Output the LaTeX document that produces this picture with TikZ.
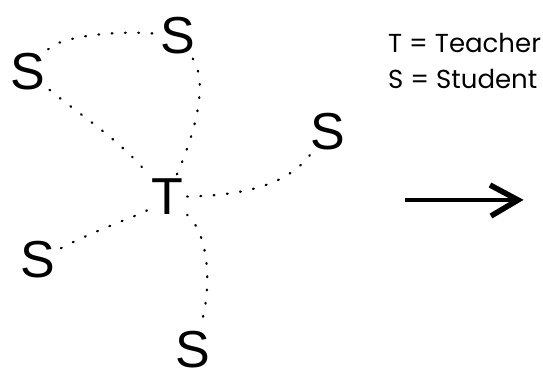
\documentclass[tikz,border=0pt]{standalone}
\usepackage{fontspec}
\setmainfont{Poppins}
\newfontfamily\letterfont{Liberation Sans}
\usetikzlibrary{arrows.meta}
\begin{document}
\begin{tikzpicture}[x=1pt,y=-1pt,
  person/.style={font=\letterfont\fontsize{52}{52}\selectfont, inner sep=4pt},
  link/.style={line width=2.3pt, line cap=round, dash pattern=on 0.8pt off 12.5pt},
  legend/.style={font=\fontsize{26}{36}\selectfont, anchor=base west, inner sep=0pt}]
  \useasboundingbox[fill=white] (0,0) rectangle (543,376);
  % class members
  \node[person] (t)  at (167,197) {T};
  \node[person] (s1) at (28,72)   {S};
  \node[person] (s2) at (178,36)  {S};
  \node[person] (s3) at (328,132) {S};
  \node[person] (s4) at (38,260)  {S};
  \node[person] (s5) at (193,350) {S};
  % dotted ties
  \draw[link] (s1) .. controls (60,36) and (120,30) .. (s2);
  \draw[link] (s1) .. controls (80,115) and (120,140) .. (t);
  \draw[link] (s2) .. controls (210,85) and (192,140) .. (t);
  \draw[link] (t) .. controls (260,195) and (292,178) .. (s3);
  \draw[link] (t) .. controls (140,215) and (100,228) .. (s4);
  \draw[link] (t) .. controls (210,235) and (212,290) .. (s5);
  % legend
  \node[legend] (l1) at (388,52) {T = Teacher};
  \node[legend] (l2) at (388,88) {S = Student};
  % arrow: shaft and a thick open head
  \coordinate (a0) at (405,200);
  \coordinate (a1) at (518,200);
  \coordinate (b1) at (490,185);
  \coordinate (b2) at (491,216);
  \draw[line width=4pt] (a0) -- (a1);
  \draw[line width=5.5pt, miter limit=4] (b1) -- (a1) -- (b2);
\end{tikzpicture}
\end{document}
